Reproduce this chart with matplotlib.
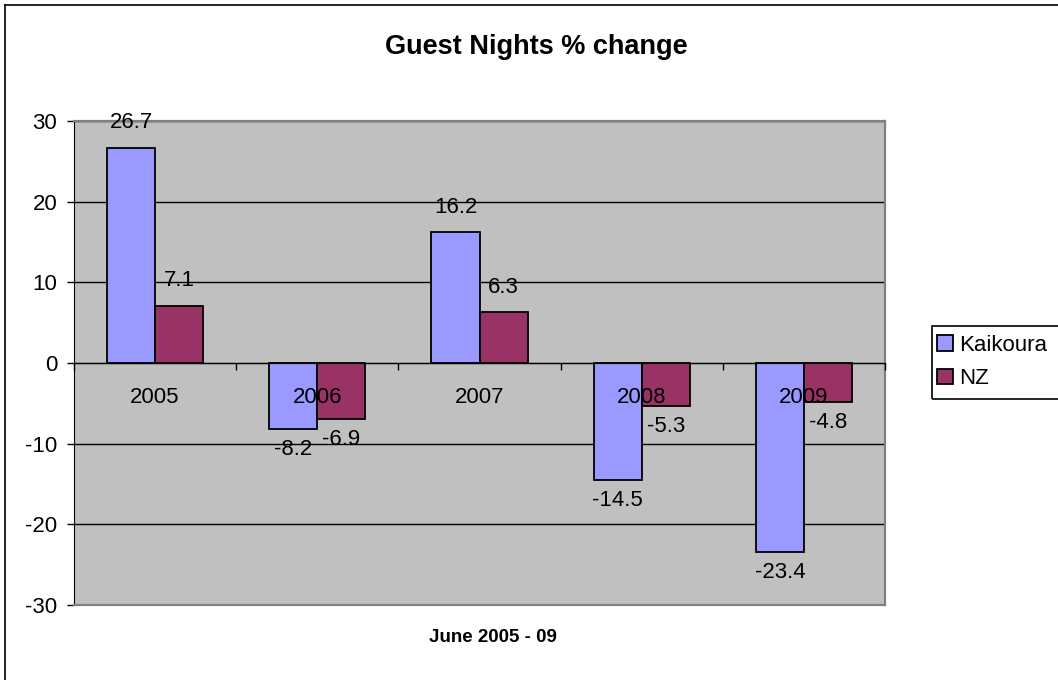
import matplotlib
matplotlib.use("Agg")
import matplotlib.pyplot as plt
from matplotlib.patches import Rectangle
from matplotlib.lines import Line2D
import numpy as np

plt.rcParams['font.family'] = ['Liberation Sans', 'DejaVu Sans']
plt.rcParams['axes.unicode_minus'] = False

years = ["2005", "2006", "2007", "2008", "2009"]
kaikoura = [26.7, -8.2, 16.2, -14.5, -23.4]
nz = [7.1, -6.9, 6.3, -5.3, -4.8]
yticks = [-30, -20, -10, 0, 10, 20, 30]

W, H = 1058, 680
fig = plt.figure(figsize=(W / 100, H / 100), dpi=100)
ax = fig.add_axes([74 / W, 1 - 605 / H, (885 - 74) / W, (605 - 121) / H])
ax.set_facecolor("#C0C0C0")

x = np.arange(len(years))
bw = 0.296
b1 = ax.bar(x - bw / 2, kaikoura, bw, color="#9999FF", edgecolor="black", linewidth=1.3, label="Kaikoura", zorder=2)
b2 = ax.bar(x + bw / 2, nz, bw, color="#993366", edgecolor="black", linewidth=1.3, label="NZ", zorder=2)

# value labels outside bar ends
for bars, vals in ((b1, kaikoura), (b2, nz)):
    for r, v in zip(bars, vals):
        cx = r.get_x() + r.get_width() / 2
        off = 18 if v > 0 else -15
        ax.annotate(f"{v}", (cx, v), xytext=(0, off), textcoords="offset points",
                    ha="center", va="center", fontsize=16, zorder=5)

ax.set_xlim(-0.5, len(years) - 0.5)
ax.set_ylim(-30, 30)

# category axis crosses at zero
ax.spines["bottom"].set_position(("data", 0))
ax.spines["bottom"].set_color("black")
ax.spines["left"].set_color("black")
for s in ("top", "right"):
    ax.spines[s].set_color("#808080")
    ax.spines[s].set_linewidth(1.6)
ax.plot([0, 1], [0, 0], transform=ax.transAxes, color="#808080", lw=1.6, clip_on=False, zorder=4)

ax.set_yticks(yticks)
ax.tick_params(axis="y", labelsize=16, length=5, width=1, pad=7, color="black")

ax.set_xticks(x)
ax.set_xticklabels(years)
ax.set_xticks(np.arange(len(years) + 1) - 0.5, minor=True)
ax.tick_params(axis="x", which="major", length=0, pad=17, labelsize=16)
ax.tick_params(axis="x", which="minor", length=5, width=1, color="black")

ax.grid(axis="y", color="black", linewidth=1)
ax.set_axisbelow(True)
ax.xaxis.set_zorder(5)  # year labels sit on top of the bars

fig.text(536 / W, 1 - 47 / H, "Guest Nights % change", ha="center", va="center",
         fontsize=19.5, fontweight="bold")
fig.text(493 / W, 1 - 637 / H, "June 2005 - 09", ha="center", va="center",
         fontsize=13.5, fontweight="bold")

# outer chart border (right and bottom clipped off in the reference)
fig.add_artist(Line2D([5 / W, 5 / W], [0, 1 - 5 / H], color="black", lw=1.2))
fig.add_artist(Line2D([5 / W, 1], [1 - 5 / H, 1 - 5 / H], color="black", lw=1.2))

# legend box
fig.add_artist(Rectangle((932 / W, 1 - 399 / H), 140 / W, 73 / H, fill=False,
                         edgecolor="black", lw=1.2, transform=fig.transFigure))
fig.legend(handles=[b1, b2], labels=["Kaikoura", "NZ"], loc="center left",
           bbox_to_anchor=(937 / W, 1 - 362 / H), frameon=False, fontsize=16,
           handlelength=0.7, handleheight=0.7, handletextpad=0.3, labelspacing=0.55,
           borderpad=0, borderaxespad=0)

fig.savefig("out.png", dpi=100)
